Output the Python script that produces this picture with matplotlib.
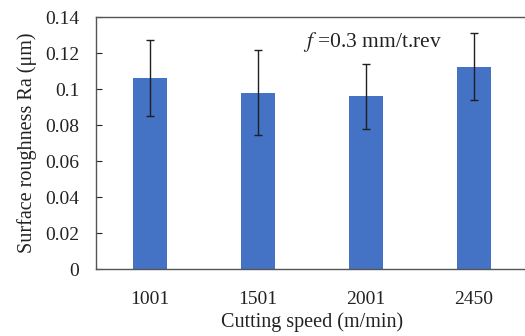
import matplotlib.pyplot as plt
import numpy as np

plt.rcParams['font.family'] = ['Liberation Serif', 'DejaVu Serif']
plt.rcParams['mathtext.fontset'] = 'stix'

# data
speeds = ['1001', '1501', '2001', '2450']
ra = [0.106, 0.098, 0.096, 0.112]
err_low = [0.021, 0.0235, 0.018, 0.018]
err_high = [0.021, 0.0235, 0.018, 0.019]

fig = plt.figure(figsize=(5.25, 3.36), dpi=100)
ax = fig.add_axes([96/525, 1-269/336, 432/525, 252/336])

x = np.arange(len(speeds))
ax.bar(x, ra, width=0.315, color='#4472C4', zorder=2)
ax.errorbar(x, ra, yerr=[err_low, err_high], fmt='none', ecolor='#1f1f1f',
            elinewidth=1, capsize=3, capthick=1, zorder=3)

ax.set_xlim(-0.5, 3.5)
ax.set_ylim(0, 0.14)
ax.set_yticks(np.arange(0, 0.141, 0.02))
ax.set_yticklabels(['0', '0.02', '0.04', '0.06', '0.08', '0.1', '0.12', '0.14'])
ax.set_xticks(x)
ax.set_xticklabels(speeds)
ax.tick_params(axis='both', labelsize=14, colors='#222222')
ax.tick_params(axis='x', length=0, pad=16)
ax.tick_params(axis='y', length=4, direction='in', pad=12)
for s in ax.spines.values():
    s.set_color('#555555')
    s.set_linewidth(1)

ax.set_xlabel('Cutting speed (m/min)', fontsize=14.5, color='#222222', labelpad=3)
ax.set_ylabel('Surface roughness Ra (\u03bcm)', fontsize=14.5, color='#222222', labelpad=6)
ax.text(0.48, 0.9, '$f$ =0.3 mm/t.rev', transform=ax.transAxes, fontsize=15.5,
        color='#222222', ha='left', va='center')

fig.savefig('out.png', dpi=100)
